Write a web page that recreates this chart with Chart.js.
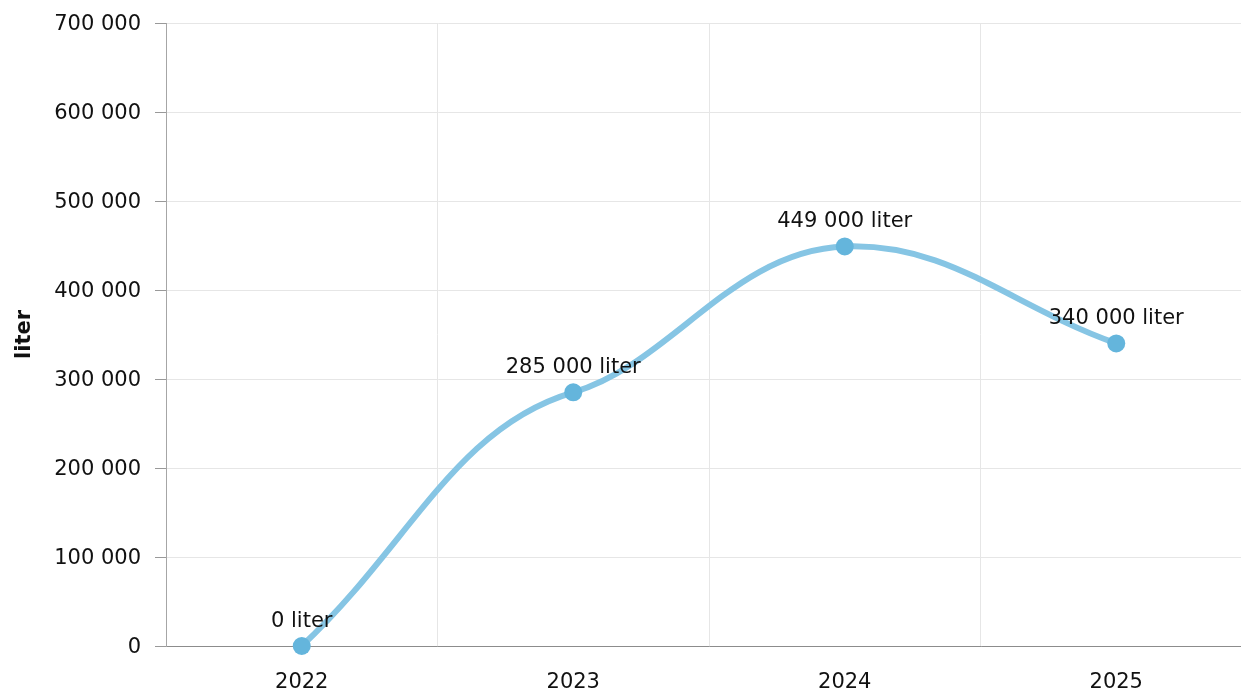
<!DOCTYPE html>
<html>
<head>
<meta charset="utf-8">
<script src="https://cdn.jsdelivr.net/npm/chart.js@4"></script>
<style>
  html, body { margin: 0; padding: 0; background: #fff; overflow: hidden; }
  canvas { display: block; }
</style>
</head>
<body>
<canvas id="chart" width="1252" height="693"></canvas>
<script>
// data
const years = ['2022', '2023', '2024', '2025'];
const liters = [0, 285000, 449000, 340000];
const unit = 'liter';
const yMax = 700000;
const yStep = 100000;

const FONT = "'DejaVu Sans', Verdana, sans-serif";

function fmt(n){ return String(n).replace(/\B(?=(\d{3})+(?!\d))/g, ' '); }

// flatten the tangents at the inner points (curve is flatter at each point in the original)
const flatten = {
  id: 'flatten',
  beforeDatasetDraw(chart, args){
    const line = args.meta.dataset;
    if(!line) return;
    line._pointsUpdated = false;
    line._path = undefined;
    line.updateControlPoints(chart.chartArea, 'x');
    const pts = args.meta.data;
    pts.forEach((p, i) => {
      if(i === 0 || i === pts.length - 1) return;
      p.cp1y = p.y + 0.4 * (p.cp1y - p.y);
      p.cp2y = p.y + 0.4 * (p.cp2y - p.y);
    });
  }
};

// value labels above points
const pointLabels = {
  id: 'pointLabels',
  afterDatasetsDraw(chart){
    const ctx = chart.ctx;
    const meta = chart.getDatasetMeta(0);
    ctx.save();
    ctx.font = '21px ' + FONT;
    ctx.fillStyle = '#111';
    ctx.textAlign = 'center';
    ctx.textBaseline = 'alphabetic';
    meta.data.forEach((pt, i) => {
      ctx.fillText(fmt(liters[i]) + ' ' + unit, pt.x, pt.y - 19);
    });
    ctx.restore();
  }
};

new Chart(document.getElementById('chart'), {
  type: 'line',
  data: {
    labels: years,
    datasets: [{
      data: liters,
      borderColor: '#86c5e4',
      borderWidth: 6,
      tension: 0.4,
      pointRadius: 9,
      pointHoverRadius: 9,
      pointBackgroundColor: '#64b5dc',
      pointBorderWidth: 0,
      fill: false,
      clip: false
    }]
  },
  options: {
    responsive: false,
    animation: false,
    layout: { autoPadding: false, padding: { top: 23, right: 0, bottom: 0, left: 0 } },
    plugins: { legend: { display: false }, tooltip: { enabled: false } },
    scales: {
      x: {
        offset: true,
        grid: { offset: true, color: '#e6e6e6', drawTicks: false },
        border: { color: '#8c8c8c', width: 1 },
        ticks: { color: '#111', font: { family: FONT, size: 21 }, padding: 24 },
        afterFit(s){ s.height = 47; s.paddingLeft = 0; s.paddingRight = 0; }
      },
      y: {
        min: 0,
        max: yMax,
        grid: { color: '#e6e6e6', tickColor: '#999', tickLength: 11 },
        border: { color: '#a6a6a6', width: 1 },
        ticks: {
          stepSize: yStep,
          color: '#111',
          padding: 14,
          labelOffset: 2,
          font: { family: FONT, size: 21 },
          callback: v => fmt(v)
        },
        title: {
          display: true,
          text: unit,
          color: '#111',
          font: { family: FONT, size: 21, weight: 'bold' },
          padding: { top: 12, bottom: 16 }
        },
        afterFit(s){ s.width = 166; s.paddingTop = 0; s.paddingBottom = 0; }
      }
    }
  },
  plugins: [flatten, pointLabels]
});
</script>
</body>
</html>
